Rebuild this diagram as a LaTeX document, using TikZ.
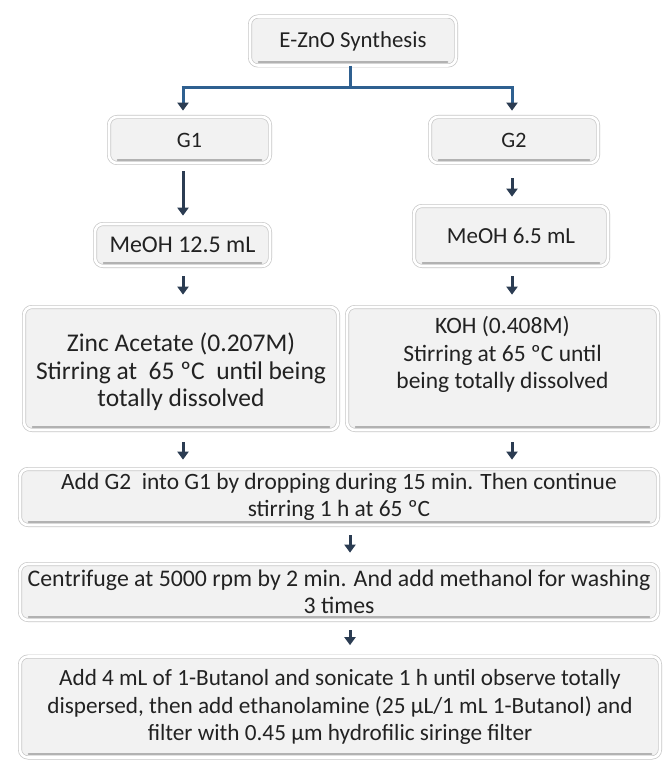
\documentclass[tikz,border=0pt]{standalone}
\usepackage{fontspec}
\setmainfont{Carlito}
\usetikzlibrary{arrows.meta,calc}
\definecolor{boxfill}{HTML}{F2F2F2}
\definecolor{arrcol}{HTML}{2B3C52}
\definecolor{brcol}{HTML}{2F6090}
\definecolor{txtcol}{HTML}{222222}
\begin{document}
\begin{tikzpicture}[x=1pt,y=-1pt,
  box/.style={draw=gray!45, line width=0.7pt, double=white, double distance=2.6pt,
    fill=boxfill, rounded corners=8pt, inner sep=0pt, align=center,
    font=\fontsize{22}{27.5}\selectfont, text=txtcol},
  fs/.style={font=\fontsize{#1}{27.5}\selectfont},
  arr/.style={arrcol, line width=3pt, -{Triangle[width=11pt,length=8pt]}},
  brline/.style={brcol, line width=3pt},
  shadowline/.style={gray!60, line width=1.8pt, line cap=round},
]
\useasboundingbox[fill=white] (0,0) rectangle (664,762);

\node[box, fs=22.8, minimum width=206pt, minimum height=49pt] (top) at (353,41) {E-ZnO Synthesis};
\node[box, minimum width=161pt, minimum height=46pt] (G1) at (189.5,140) {G1};
\node[box, minimum width=168pt, minimum height=46pt] (G2) at (514,140) {G2};
\node[box, fs=24, minimum width=175pt, minimum height=42pt] (M1) at (182.5,245) {MeOH 12.5 mL};
\node[box, fs=23, minimum width=194pt, minimum height=60pt] (M2) at (511,236) {MeOH 6.5 mL};
\node[box, fs=25.5, minimum width=314pt, minimum height=123pt] (Z) at (181,368.5)
  {\strut\\[-21pt]Zinc Acetate (0.207M)\\Stirring at\ \ 65 ºC\ \ until being\\totally dissolved};
\node[box, fs=23.5, minimum width=311pt, minimum height=123pt] (K) at (502.5,368.5)
  {KOH (0.408M)\\Stirring at 65 ºC until\\being totally dissolved\\[-4pt]\strut};
\node[box, fs=23.4, minimum width=638pt, minimum height=56pt] (A) at (339,497)
  {Add G2\ \ into G1 by dropping during 15 min. Then continue\\stirring 1 h at 65 ºC};
\node[box, fs=23.8, minimum width=638pt, minimum height=56pt] (C) at (339,592)
  {Centrifuge at 5000 rpm by 2 min. And add methanol for washing\\3 times};
\node[box, fs=23.2, minimum width=640pt, minimum height=101pt] (L) at (340,707)
  {Add 4 mL of 1-Butanol and sonicate 1 h until observe totally\\dispersed, then add ethanolamine (25 μL/1 mL 1-Butanol) and\\filter with 0.45 μm hydrofilic siringe filter};

\foreach \n in {top,G1,G2,M1,M2,Z,K,A,C,L}{
  \draw[shadowline] ($(\n.south west)+(9,-3.6)$) -- ($(\n.south east)+(-9,-3.6)$);
}

% bracket
\coordinate (bm) at (350,88);
\coordinate (bl) at (183,88);
\coordinate (br) at (512,88);
\draw[brline] (top.south -| bm) -- (bm);
\draw[brline] ([xshift=-1.5pt]bl) -- ([xshift=1.5pt]br);
\draw[brline, -{Triangle[width=11pt,length=8pt,color=arrcol]}, shorten >=6pt] (bl) -- (bl |- G1.north);
\draw[brline, -{Triangle[width=11pt,length=8pt,color=arrcol]}, shorten >=6pt] (br) -- (br |- G2.north);

% arrows
\draw[arr, shorten <=8pt, shorten >=8pt] (bl |- G1.south) -- (bl |- M1.north);
\draw[arr, shorten <=15pt, shorten >=9pt] (br |- G2.south) -- (br |- M2.north);
\draw[arr, shorten <=10pt, shorten >=12pt] (bl |- M1.south) -- (bl |- Z.north);
\draw[arr, shorten <=10pt, shorten >=12pt] (br |- M2.south) -- (br |- K.north);
\draw[arr, shorten <=12pt, shorten >=9pt] (bl |- Z.south) -- (bl |- A.north);
\draw[arr, shorten <=12pt, shorten >=9pt] (br |- K.south) -- (br |- A.north);
\draw[arr, shorten <=10pt, shorten >=11pt] (bm |- A.south) -- (bm |- C.north);
\draw[arr, shorten <=10pt, shorten >=11pt] (bm |- C.south) -- (bm |- L.north);
\end{tikzpicture}
\end{document}
